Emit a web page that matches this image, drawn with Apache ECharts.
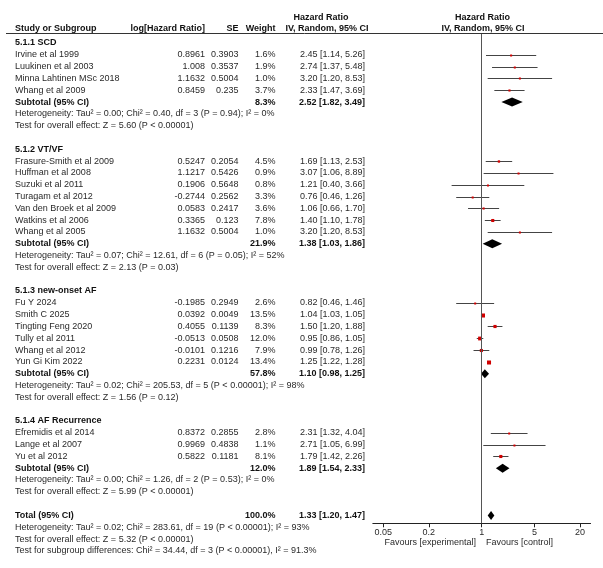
<!DOCTYPE html>
<html>
<head>
<meta charset="utf-8">
<script src="https://cdn.jsdelivr.net/npm/echarts@6/dist/echarts.min.js"></script>
<style>html,body{margin:0;padding:0;background:#fff}#c{width:603px;height:568px}</style>
</head>
<body>
<div id="c"></div>
<script>
// ---------- DATA ----------
const groupTitles = ["5.1.1 SCD", "5.1.2 VT/VF", "5.1.3 new-onset AF", "5.1.4 AF Recurrence"];
const studyNames = [
  "Irvine et al 1999", "Luukinen et al 2003", "Minna Lahtinen MSc 2018", "Whang et al 2009",
  "Frasure-Smith et al 2009", "Huffman et al 2008", "Suzuki et al 2011", "Turagam et al 2012",
  "Van den Broek et al 2009", "Watkins et al 2006", "Whang et al 2005",
  "Fu Y 2024", "Smith C 2025", "Tingting Feng 2020", "Tully et al 2011", "Whang et al 2012", "Yun Gi Kim 2022",
  "Efremidis et al 2014", "Lange et al 2007", "Yu et al 2012"
];
const studyGroup = [0,0,0,0, 1,1,1,1,1,1,1, 2,2,2,2,2,2, 3,3,3];
const logHR = [0.8961, 1.008, 1.1632, 0.8459, 0.5247, 1.1217, 0.1906, -0.2744, 0.0583, 0.3365, 1.1632,
  -0.1985, 0.0392, 0.4055, -0.0513, -0.0101, 0.2231, 0.8372, 0.9969, 0.5822];
const seVals = [0.3903, 0.3537, 0.5004, 0.235, 0.2054, 0.5426, 0.5648, 0.2562, 0.2417, 0.123, 0.5004,
  0.2949, 0.0049, 0.1139, 0.0508, 0.1216, 0.0124, 0.2855, 0.4838, 0.1181];
const weights = [1.6, 1.9, 1.0, 3.7, 4.5, 0.9, 0.8, 3.3, 3.6, 7.8, 1.0,
  2.6, 13.5, 8.3, 12.0, 7.9, 13.4, 2.8, 1.1, 8.1];
const hrVals = [2.45, 2.74, 3.20, 2.33, 1.69, 3.07, 1.21, 0.76, 1.06, 1.40, 3.20,
  0.82, 1.04, 1.50, 0.95, 0.99, 1.25, 2.31, 2.71, 1.79];
const ciLow = [1.14, 1.37, 1.20, 1.47, 1.13, 1.06, 0.40, 0.46, 0.66, 1.10, 1.20,
  0.46, 1.03, 1.20, 0.86, 0.78, 1.22, 1.32, 1.05, 1.42];
const ciHigh = [5.26, 5.48, 8.53, 3.69, 2.53, 8.89, 3.66, 1.26, 1.70, 1.78, 8.53,
  1.46, 1.05, 1.88, 1.05, 1.26, 1.28, 4.04, 6.99, 2.26];

const subWeight = [8.3, 21.9, 57.8, 12.0];
const subHR = [2.52, 1.38, 1.10, 1.89];
const subLow = [1.82, 1.03, 0.98, 1.54];
const subHigh = [3.49, 1.86, 1.25, 2.33];
const hetTexts = [
  "Heterogeneity: Tau² = 0.00; Chi² = 0.40, df = 3 (P = 0.94); I² = 0%",
  "Heterogeneity: Tau² = 0.07; Chi² = 12.61, df = 6 (P = 0.05); I² = 52%",
  "Heterogeneity: Tau² = 0.02; Chi² = 205.53, df = 5 (P < 0.00001); I² = 98%",
  "Heterogeneity: Tau² = 0.00; Chi² = 1.26, df = 2 (P = 0.53); I² = 0%"
];
const effectTexts = [
  "Test for overall effect: Z = 5.60 (P < 0.00001)",
  "Test for overall effect: Z = 2.13 (P = 0.03)",
  "Test for overall effect: Z = 1.56 (P = 0.12)",
  "Test for overall effect: Z = 5.99 (P < 0.00001)"
];
const totalWeight = 100.0, totalHR = 1.33, totalLow = 1.20, totalHigh = 1.47;
const totalNotes = [
  "Heterogeneity: Tau² = 0.02; Chi² = 283.61, df = 19 (P < 0.00001); I² = 93%",
  "Test for overall effect: Z = 5.32 (P < 0.00001)",
  "Test for subgroup differences: Chi² = 34.44, df = 3 (P < 0.00001), I² = 91.3%"
];
const tickValues = [0.05, 0.2, 1, 5, 20];

// ---------- LAYOUT ----------
const FONT = "'Liberation Sans', Arial, sans-serif";
const FS = 9;
const ROW0 = 43, ROW_H = 11.81;
const GRID_TOP = 34, AXIS_Y = 523.3;
const X_MIN = -1.44, X_MAX = 1.44, PX_PER = 75.6, ZERO_X = 481.7;
const COL = {name: 15, logHR: 205, se: 238.5, weight: 275.5, hr: 365};

const fmtCI = (h, l, u) => h.toFixed(2) + " [" + l.toFixed(2) + ", " + u.toFixed(2) + "]";

// build rows
const rows = [];
const studyPts = [];
const diamonds = [];
for (let g = 0; g < groupTitles.length; g++) {
  rows.push({name: groupTitles[g], bold: true});
  for (let i = 0; i < studyNames.length; i++) {
    if (studyGroup[i] !== g) continue;
    const r = rows.length;
    rows.push({name: studyNames[i], logHR: String(logHR[i]), se: String(seVals[i]),
      weight: weights[i].toFixed(1) + "%", hr: fmtCI(hrVals[i], ciLow[i], ciHigh[i])});
    studyPts.push([Math.log10(ciLow[i]), Math.log10(ciHigh[i]), Math.log10(hrVals[i]), r, weights[i]]);
  }
  const rs = rows.length;
  rows.push({name: "Subtotal (95% CI)", bold: true, weight: subWeight[g].toFixed(1) + "%",
    hr: fmtCI(subHR[g], subLow[g], subHigh[g])});
  diamonds.push([Math.log10(subLow[g]), Math.log10(subHigh[g]), Math.log10(subHR[g]), rs]);
  rows.push({name: hetTexts[g]});
  rows.push({name: effectTexts[g]});
  rows.push({name: ""});
}
const rt = rows.length;
rows.push({name: "Total (95% CI)", bold: true, weight: totalWeight.toFixed(1) + "%", hr: fmtCI(totalHR, totalLow, totalHigh)});
diamonds.push([Math.log10(totalLow), Math.log10(totalHigh), Math.log10(totalHR), rt]);
totalNotes.forEach(t => rows.push({name: t}));

const yMin = (GRID_TOP - ROW0) / ROW_H;
const yMax = (AXIS_Y - ROW0) / ROW_H;
const gridLeft = ZERO_X + X_MIN * PX_PER;
const gridWidth = (X_MAX - X_MIN) * PX_PER;

function txt(x, y, s, align, bold) {
  return {type: 'text', x: x, y: y, silent: true,
    style: {text: s, fill: bold ? '#111' : '#2a2a2a', font: (bold ? 'bold ' : '') + FS + 'px ' + FONT,
      align: align, verticalAlign: 'middle'}};
}

const chart = echarts.init(document.getElementById('c'), null, {renderer: 'canvas'});
chart.setOption({
  animation: false,
  backgroundColor: '#fff',
  grid: {left: gridLeft, width: gridWidth, top: GRID_TOP, bottom: 568 - AXIS_Y, containLabel: false},
  xAxis: {
    type: 'value', min: X_MIN, max: X_MAX,
    axisLine: {show: true, onZero: false, lineStyle: {color: '#222', width: 1}},
    axisTick: {show: true, length: 4, customValues: tickValues.map(v => Math.log10(v)), lineStyle: {color: '#222'}},
    axisLabel: {show: true, customValues: tickValues.map(v => Math.log10(v)), margin: 5,
      fontSize: FS, fontFamily: FONT, color: '#2a2a2a',
      formatter: function (v) {
        let best = tickValues[0];
        tickValues.forEach(t => { if (Math.abs(Math.log10(t) - v) < Math.abs(Math.log10(best) - v)) best = t; });
        return String(best);
      }},
    splitLine: {show: false}
  },
  yAxis: {type: 'value', inverse: true, min: yMin, max: yMax, show: false},
  graphic: [
    {type: 'line', shape: {x1: 6, y1: 33.5, x2: 603, y2: 33.5}, style: {stroke: '#333', lineWidth: 1}, silent: true},
    txt(321, 18, 'Hazard Ratio', 'center', true),
    txt(482.5, 18, 'Hazard Ratio', 'center', true),
    txt(COL.name, 29, 'Study or Subgroup', 'left', true),
    txt(COL.logHR, 29, 'log[Hazard Ratio]', 'right', true),
    txt(COL.se, 29, 'SE', 'right', true),
    txt(COL.weight, 29, 'Weight', 'right', true),
    txt(327, 29, 'IV, Random, 95% CI', 'center', true),
    txt(483, 29, 'IV, Random, 95% CI', 'center', true),
    txt(476, 543, 'Favours [experimental]', 'right', false),
    txt(486, 543, 'Favours [control]', 'left', false)
  ],
  series: [
    {
      type: 'custom', name: 'table', clip: false, silent: true,
      data: rows.map((r, i) => [0, i]),
      encode: {x: 0, y: 1},
      renderItem: function (params, api) {
        const r = rows[params.dataIndex];
        const y = api.coord([0, api.value(1)])[1];
        const ch = [];
        if (r.name) ch.push(txt(COL.name, y, r.name, 'left', r.bold));
        if (r.logHR) ch.push(txt(COL.logHR, y, r.logHR, 'right', false));
        if (r.se) ch.push(txt(COL.se, y, r.se, 'right', false));
        if (r.weight) ch.push(txt(COL.weight, y, r.weight, 'right', r.bold));
        if (r.hr) ch.push(txt(COL.hr, y, r.hr, 'right', r.bold));
        return {type: 'group', children: ch};
      }
    },
    {
      type: 'custom', name: 'studies', clip: false, silent: true,
      data: studyPts,
      encode: {x: [0, 1, 2], y: 3},
      renderItem: function (params, api) {
        const row = api.value(3);
        const a = api.coord([api.value(0), row]);
        const b = api.coord([api.value(1), row]);
        const c = api.coord([api.value(2), row]);
        const y = Math.round(a[1]) + 0.5;
        const s = Math.max(2, 1.1 * Math.sqrt(api.value(4)));
        return {type: 'group', children: [
          {type: 'line', shape: {x1: a[0], y1: y, x2: b[0], y2: y}, style: {stroke: '#444', lineWidth: 1}},
          {type: 'rect', shape: {x: c[0] - s / 2, y: y - s / 2, width: s, height: s}, style: {fill: '#d00000'}}
        ]};
      },
      markLine: {
        silent: true, symbol: 'none', animation: false,
        label: {show: false},
        lineStyle: {color: '#555', width: 1, type: 'solid'},
        data: [{xAxis: 0}]
      }
    },
    {
      type: 'custom', name: 'diamonds', clip: false, silent: true,
      data: diamonds,
      encode: {x: [0, 1, 2], y: 3},
      renderItem: function (params, api) {
        const row = api.value(3);
        const a = api.coord([api.value(0), row]);
        const b = api.coord([api.value(1), row]);
        const c = api.coord([api.value(2), row]);
        const y = a[1], h = 4.5;
        return {type: 'polygon', shape: {points: [[a[0], y], [c[0], y - h], [b[0], y], [c[0], y + h]]},
          style: {fill: '#000'}};
      }
    }
  ]
});
</script>
</body>
</html>
